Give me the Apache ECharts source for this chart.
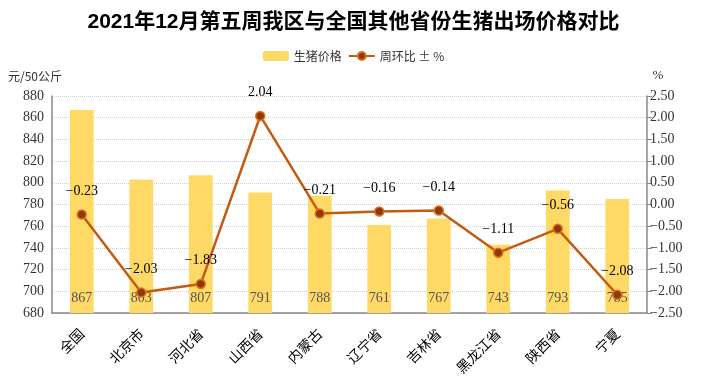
<!DOCTYPE html>
<html><head><meta charset="utf-8">
<script src="https://cdn.jsdelivr.net/npm/echarts@6/dist/echarts.min.js"></script>
<style>html,body{margin:0;padding:0;background:#fff}#c{width:707px;height:378px}</style>
</head><body><div id="c"></div>
<script>
var categories = ['全国','北京市','河北省','山西省','内蒙古','辽宁省','吉林省','黑龙江省','陕西省','宁夏'];
var prices = [867, 803, 807, 791, 788, 761, 767, 743, 793, 785];
var changes = [-0.23, -2.03, -1.83, 2.04, -0.21, -0.16, -0.14, -1.11, -0.56, -2.08];
var leftTicks = {min: 680, max: 880, interval: 20};
var rightTicks = {min: -2.5, max: 2.5, interval: 0.5};

var serif = 'Liberation Serif, DejaVu Serif, serif';
var chart = echarts.init(document.getElementById('c'));
function fmtNeg(v){ return (v < 0 ? '\u2212' + Math.abs(v).toFixed(2) : v.toFixed(2)); }
chart.setOption({
  animation: false,
  title: {
    text: '2021年12月第五周我区与全国其他省份生猪出场价格对比',
    left: 'center', top: 7,
    textStyle: {fontSize: 21, fontWeight: 'bold', color: '#000', fontFamily: 'Liberation Sans, Noto Sans CJK SC'}
  },
  legend: {
    top: 45, left: 'center', itemGap: 6, itemWidth: 26, itemHeight: 10,
    textStyle: {fontSize: 12, color: '#333', fontFamily: 'Noto Sans CJK SC'},
    data: ['生猪价格', '周环比 ± %']
  },
  grid: {left: 52, right: 60, top: 96, bottom: 65},
  xAxis: {
    type: 'category', data: categories,
    axisLine: {onZero: false, lineStyle: {color: '#888', width: 1.5}},
    axisTick: {show: false},
    axisLabel: {rotate: 45, color: '#000', fontSize: 14, fontFamily: 'Noto Sans CJK SC', interval: 0, margin: 18}
  },
  yAxis: [{
    type: 'value', name: '元/50公斤', min: leftTicks.min, max: leftTicks.max, interval: leftTicks.interval,
    nameLocation: 'end', nameGap: 14,
    nameTextStyle: {color: '#333', fontSize: 12, fontFamily: 'Noto Sans CJK SC', align: 'right', padding: [0, -10, 0, 0]},
    axisLine: {show: true, lineStyle: {color: '#888', width: 1.5}},
    axisTick: {show: false},
    axisLabel: {color: '#333', fontSize: 14, fontFamily: serif, margin: 8},
    splitLine: {lineStyle: {type: 'dotted', color: '#d0d0d0'}}
  }, {
    type: 'value', name: '%', min: rightTicks.min, max: rightTicks.max, interval: rightTicks.interval,
    nameGap: 14,
    nameTextStyle: {color: '#333', fontSize: 13, fontFamily: serif, padding: [0, 0, 0, 22]},
    axisLine: {show: true, onZero: false, lineStyle: {color: '#888', width: 1.5}},
    axisTick: {show: true, length: 5, lineStyle: {color: '#888'}},
    axisLabel: {color: '#333', fontSize: 14, fontFamily: serif, margin: 3, formatter: fmtNeg},
    splitLine: {show: false}
  }],
  series: [{
    name: '生猪价格', type: 'bar', data: prices, barWidth: '40%',
    itemStyle: {color: '#FFD966'},
    label: {show: true, position: 'insideBottom', distance: 8, color: '#555', fontSize: 14, fontFamily: serif}
  }, {
    name: '周环比 ± %', type: 'line', yAxisIndex: 1, data: changes,
    lineStyle: {color: '#C55A11', width: 2.5},
    symbol: 'circle', symbolSize: 9,
    itemStyle: {color: '#8B3A0A', borderColor: '#E07020', borderWidth: 1.5},
    label: {show: true, position: 'top', distance: 11, color: '#000', fontSize: 14, fontFamily: serif,
      formatter: function(p){ return fmtNeg(p.value); }}
  }]
});
</script></body></html>
